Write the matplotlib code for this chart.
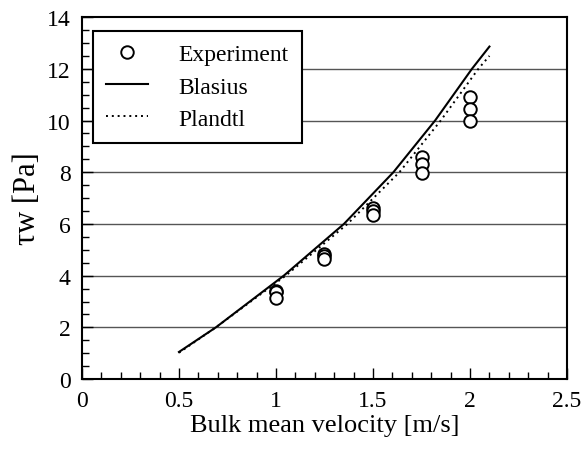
import matplotlib
matplotlib.use("Agg")
import matplotlib.pyplot as plt
from matplotlib.ticker import MultipleLocator

# experiment: three repeat measurements at each bulk velocity
exp_u = [1.0, 1.0, 1.0, 1.25, 1.25, 1.25, 1.5, 1.5, 1.5, 1.75, 1.75, 1.75, 2.0, 2.0, 2.0]
exp_tau = [3.42, 3.35, 3.12, 4.85, 4.75, 4.65, 6.6, 6.5, 6.35, 8.6, 8.3, 7.97, 10.9, 10.45, 9.98]

# theory curves
blasius_u = [0.5, 0.69, 1.04, 1.35, 1.605, 1.82, 2.01, 2.10]
blasius_tau = [1.05, 2.0, 4.0, 6.0, 8.0, 10.0, 12.0, 12.86]
plandtl_u = [0.5, 0.69, 1.05, 1.368, 1.636, 1.849, 2.043, 2.10]
plandtl_tau = [1.02, 2.0, 4.0, 6.0, 8.0, 10.0, 12.0, 12.5]

xticks = [0, 0.5, 1, 1.5, 2, 2.5]
xtick_labels = ["0", "0.5", "1", "1.5", "2", "2.5"]

plt.rcParams["font.family"] = ["Liberation Serif", "DejaVu Serif"]

fig = plt.figure(figsize=(5.81, 4.52), dpi=100)
ax = fig.add_axes([0.141, 0.159, 0.835, 0.801])

for y in range(2, 14, 2):
    ax.axhline(y, color="#555555", lw=1.0, zorder=0)

ax.plot(exp_u, exp_tau, ls="none", marker="o", ms=9, mfc="white", mec="black",
        mew=1.4, label="Experiment", zorder=3)
ax.plot(blasius_u, blasius_tau, color="black", lw=1.5, label="Blasius", zorder=2)
ax.plot(plandtl_u, plandtl_tau, color="black", lw=1.4, ls=(0, (1, 2)),
        label="Plandtl", zorder=2)

ax.set_xlim(0, 2.5)
ax.set_ylim(0, 14)
ax.set_xticks(xticks)
ax.set_xticklabels(xtick_labels)
ax.xaxis.set_minor_locator(MultipleLocator(0.1))
ax.yaxis.set_major_locator(MultipleLocator(2))
ax.yaxis.set_minor_locator(MultipleLocator(0.5))
ax.tick_params(which="both", direction="in", top=False, right=False, labelsize=17)
ax.tick_params(which="major", length=8, width=1.0, pad=8)
ax.tick_params(which="minor", length=5, width=1.0)
for s in ax.spines.values():
    s.set_linewidth(1.5)

ax.set_xlabel("Bulk mean velocity [m/s]", fontsize=19, labelpad=2)
ax.set_ylabel("τw [Pa]", fontsize=22, labelpad=4)

leg = ax.legend(loc="upper left", bbox_to_anchor=(0.022, 0.962), fontsize=17,
                frameon=True, fancybox=False, handlelength=1.8, handletextpad=1.3,
                borderpad=0.55, labelspacing=0.45, borderaxespad=0)
leg.get_frame().set_edgecolor("black")
leg.get_frame().set_linewidth(1.5)
leg.get_frame().set_alpha(1)

fig.savefig("out.png", dpi=100)
